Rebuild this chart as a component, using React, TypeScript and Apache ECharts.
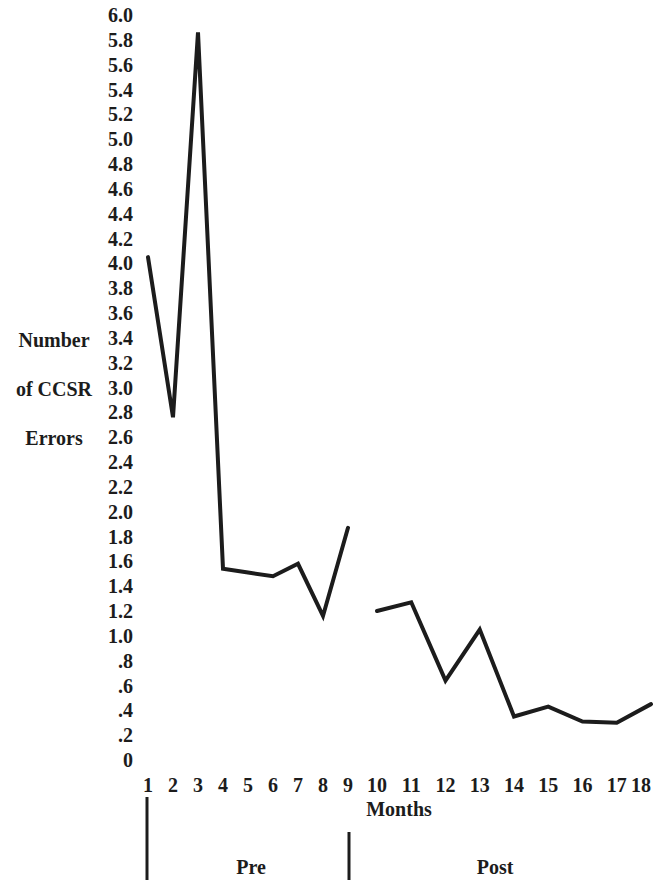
import React, { useEffect, useRef } from "react";
import * as echarts from "echarts";

const preMonths = [1, 2, 3, 4, 5, 6, 7, 8, 9];
const preErrors = [4.05, 2.76, 5.86, 1.54, 1.51, 1.48, 1.58, 1.16, 1.87];
const postMonths = [10, 11, 12, 13, 14, 15, 16, 17, 18];
const postErrors = [1.2, 1.27, 0.64, 1.05, 0.35, 0.43, 0.31, 0.3, 0.45];
const yAxisTitleLines = ["Number", "of CCSR", "Errors"];
const xAxisTitle = "Months";
const phaseLabels = ["Pre", "Post"];

const INK = "#1c1c1c";
const FONT = "'Liberation Serif', 'DejaVu Serif', serif";

function fmtY(v: number): string {
  if (Math.abs(v) < 1e-9) return "0";
  const s = v.toFixed(1);
  return v < 1 ? s.replace(/^0/, "") : s;
}

export default function App() {
  const ref = useRef<HTMLDivElement>(null);
  useEffect(() => {
    document.body.style.margin = "0";
    if (!ref.current) return;
    const chart = echarts.init(ref.current, null, { renderer: "svg" });
    const labelStyle = {
      color: INK,
      fontFamily: FONT,
      fontWeight: "bold" as const,
      fontSize: 20,
    };
    const hiddenAxisParts = {
      axisLine: { show: false },
      axisTick: { show: false },
      splitLine: { show: false },
    };
    const lineStyle = { color: INK, width: 4, cap: "round" as const, join: "miter" as const };
    chart.setOption({
      animation: false,
      backgroundColor: "#ffffff",
      grid: [
        { left: 148, right: 305, top: 15, bottom: 120, outerBoundsMode: "none", containLabel: false },
        { left: 377, right: 2, top: 15, bottom: 120, outerBoundsMode: "none", containLabel: false },
      ],
      xAxis: [
        {
          type: "value",
          gridIndex: 0,
          min: 1,
          max: 9,
          interval: 1,
          ...hiddenAxisParts,
          axisLabel: { ...labelStyle, margin: 15 },
        },
        {
          type: "value",
          gridIndex: 1,
          min: 10,
          max: 18,
          interval: 1,
          ...hiddenAxisParts,
          axisLabel: { ...labelStyle, margin: 15, alignMaxLabel: "right" },
        },
      ],
      yAxis: [
        {
          type: "value",
          gridIndex: 0,
          min: 0,
          max: 6,
          interval: 0.2,
          ...hiddenAxisParts,
          axisLabel: { ...labelStyle, margin: 15, formatter: (v: number) => fmtY(v) },
        },
        {
          type: "value",
          gridIndex: 1,
          min: 0,
          max: 6,
          interval: 0.2,
          ...hiddenAxisParts,
          axisLabel: { show: false },
        },
      ],
      series: [
        {
          type: "line",
          xAxisIndex: 0,
          yAxisIndex: 0,
          data: preMonths.map((m, i) => [m, preErrors[i]]),
          symbol: "none",
          clip: false,
          lineStyle,
        },
        {
          type: "line",
          xAxisIndex: 1,
          yAxisIndex: 1,
          data: postMonths.map((m, i) => [m, postErrors[i]]),
          symbol: "none",
          clip: false,
          lineStyle,
        },
      ],
      graphic: [
        ...yAxisTitleLines.map((t, i) => ({
          type: "text",
          x: 54,
          y: 340 + i * 49,
          style: {
            text: t,
            fill: INK,
            font: `bold 20px ${FONT}`,
            textAlign: "center",
            textVerticalAlign: "middle",
          },
        })),
        {
          type: "text",
          x: 399,
          y: 809,
          style: {
            text: xAxisTitle,
            fill: INK,
            font: `bold 20px ${FONT}`,
            textAlign: "center",
            textVerticalAlign: "middle",
          },
        },
        {
          type: "line",
          shape: { x1: 147, y1: 797, x2: 147, y2: 880 },
          style: { stroke: INK, lineWidth: 3 },
        },
        {
          type: "line",
          shape: { x1: 349, y1: 832, x2: 349, y2: 880 },
          style: { stroke: INK, lineWidth: 3 },
        },
        {
          type: "text",
          x: 251,
          y: 867,
          style: {
            text: phaseLabels[0],
            fill: INK,
            font: `bold 20px ${FONT}`,
            textAlign: "center",
            textVerticalAlign: "middle",
          },
        },
        {
          type: "text",
          x: 495,
          y: 867,
          style: {
            text: phaseLabels[1],
            fill: INK,
            font: `bold 20px ${FONT}`,
            textAlign: "center",
            textVerticalAlign: "middle",
          },
        },
      ],
    });
    return () => chart.dispose();
  }, []);
  return <div ref={ref} style={{ width: 653, height: 880 }} />;
}
